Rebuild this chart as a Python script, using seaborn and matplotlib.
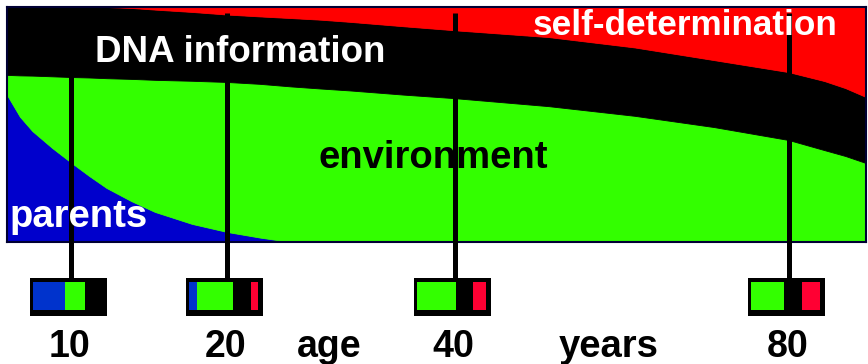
import numpy as np
import matplotlib
matplotlib.use("Agg")
import matplotlib.pyplot as plt
import seaborn as sns

# Share of influence (percent) over the life course, sampled by age
ages = [6.8, 7.4, 8, 9, 10, 11, 12, 13.5, 15, 17.5, 20, 22.5, 25, 27.5, 30, 35, 40, 50, 60, 70, 80, 85, 88, 91]
parents = [62.6, 53.3, 47.2, 40.0, 33.8, 28.1, 23.0, 17.4, 12.8, 7.7, 4.3, 1.9, 0, 0, 0, 0, 0, 0, 0, 0, 0, 0,
           0, 0]
environment = [8.5, 17.6, 23.6, 30.5, 36.4, 41.9, 46.7, 52.0, 56.2, 60.9, 63.8, 65.4, 66.2, 65.3, 64.5, 62.7,
               61.2, 57.8, 53.7, 48.9, 43.4, 39.1, 36.6, 33.6]
dna = [28.9, 29.1, 29.2, 29.5, 29.8, 30.0, 30.3, 30.2, 29.9, 29.3, 28.7, 28.7, 29.1, 29.3, 29.2, 29.1,
       28.9, 29.4, 29.1, 28.5, 28.9, 29.4, 28.9, 28.1]
self_determination = [0, 0, 0, 0, 0, 0, 0, 0.4, 1.1, 2.1, 3.2, 4.0, 4.7, 5.4, 6.3, 8.2,
                      9.9, 12.8, 17.2, 22.6, 27.7, 31.5, 34.5, 38.3]

# Snapshot boxes at selected ages
snap_ages = [10, 20, 40, 80]
snap_parents = [46, 12, 0, 0]
snap_environment = [28, 52, 56, 48]
snap_dna = [26, 25, 25, 26]
snap_self = [0, 11, 19, 26]

area_colors = ["#0000CC", "#33FF00", "#000000", "#FF0000"]
box_colors = ["#0033CC", "#33FF00", "#000000", "#FF0033"]

sns.set_theme(style="white")
plt.rcParams["font.family"] = ["Liberation Sans", "DejaVu Sans"]

W, H = 868, 364
fig = plt.figure(figsize=(W / 100, H / 100), dpi=100)
fig.patch.set_facecolor("white")


def fx(px):
    return px / W


def fy(py):
    return 1 - py / H


# Main life-course band; ages spread on a power scale
ax = fig.add_axes([fx(7), fy(242), (866 - 7) / W, (242 - 7) / H])
ax.set_xscale("function",
              functions=(lambda a: np.power(np.clip(a, 1e-9, None), 0.55),
                         lambda v: np.power(np.clip(v, 1e-9, None), 1 / 0.55)))
ax.stackplot(ages, parents, environment, dna, self_determination,
             colors=area_colors, linewidth=0.6, edgecolor="face")
ax.set_xlim(6.8, 91)
ax.set_ylim(0, 100)
ax.set_xticks([])
ax.set_yticks([])
ax.set_xlabel("")
ax.set_ylabel("")
for s in ax.spines.values():
    s.set_visible(True)
    s.set_color("#000033")
    s.set_linewidth(1.5)

# Age markers running from the band down to the snapshot boxes
ax.vlines(snap_ages, ymin=(242 - 279) / 235, ymax=(242 - 13) / 235,
          transform=ax.get_xaxis_transform(), colors="black",
          linewidth=3.6, clip_on=False, zorder=5)

fig.canvas.draw()
for i, a in enumerate(snap_ages):
    cx = ax.transData.transform((a, 50))[0] - 2.5
    bax = fig.add_axes([fx(cx - 38.5), fy(316), 77 / W, 38 / H])
    bax.set_facecolor("black")
    vals = [snap_parents[i], snap_environment[i], snap_dna[i], snap_self[i]]
    cum = np.cumsum(vals)
    for c, col in zip(cum[::-1], box_colors[::-1]):
        sns.barplot(x=[c], y=["share"], orient="h", color=col, width=1,
                    saturation=1, errorbar=None, ax=bax, linewidth=0)
    bax.set_xlim(-4.3, 106.5)
    bax.set_ylim(-0.5 - 6.5 / 28, 0.5 + 3.5 / 28)
    bax.set_xticks([])
    bax.set_yticks([])
    bax.set_xlabel("")
    bax.set_ylabel("")
    for s in bax.spines.values():
        s.set_visible(False)
    fig.text(fx(cx + 1), fy(357), str(a), color="black", fontsize=27,
             fontweight="bold", ha="center", va="baseline")


def label(px, py, s, color, size, ha="center"):
    fig.text(fx(px), fy(py), s, color=color, fontsize=size,
             fontweight="bold", ha=ha, va="baseline", zorder=6)


label(240, 62, "DNA information", "white", 26.5)
label(685.5, 35, "self-determination", "white", 25.3)
label(433, 168, "environment", "black", 27.5)
label(10, 227, "parents", "white", 27.5, ha="left")
label(329, 357, "age", "black", 27)
label(609, 357, "years", "black", 27.5)

fig.savefig("out.png", dpi=100, facecolor="white")
